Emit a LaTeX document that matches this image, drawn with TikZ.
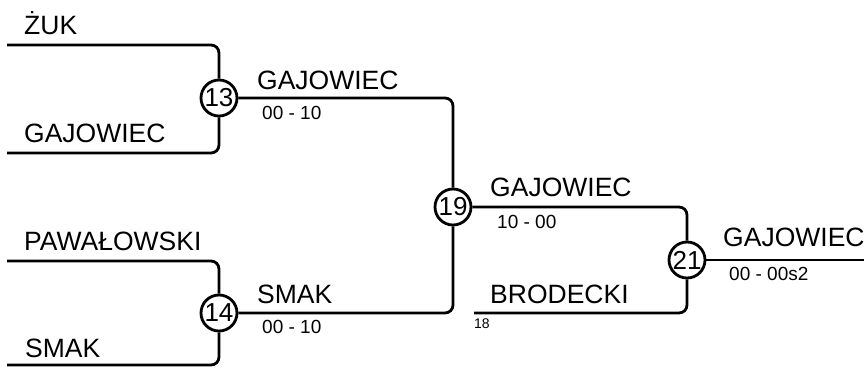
\documentclass[tikz,border=0pt]{standalone}
\usepackage{fontspec}
\setmainfont{Liberation Sans}
\usetikzlibrary{positioning}

\tikzset{
    bline/.style={line width=2.8pt, rounded corners=8pt},
    game/.style={circle, draw, line width=2.8pt, minimum size=36pt, inner sep=0pt, font=\fontsize{26}{26}\selectfont},
    player/.style={anchor=base west, inner sep=0pt, font=\fontsize{26.5}{26.5}\selectfont},
    score/.style={anchor=base west, inner sep=0pt, font=\fontsize{19}{19}\selectfont},
    seed/.style={anchor=base west, inner sep=0pt, font=\fontsize{14}{14}\selectfont}
}

\begin{document}
\begin{tikzpicture}[x=1pt, y=-1pt]
            \useasboundingbox (0,0) rectangle (864,367);
            % games
            \node[game] (m13) at (219,98) {13};
            \node[game] (m14) at (219,313) {14};
            \node[game] (m19) at (453,207) {19};
            \node[game] (m21) at (687,260) {21};
            % line ends
            \coordinate (zuk) at (7,45);
            \coordinate (gaj) at (7,153);
            \coordinate (paw) at (7,261);
            \coordinate (smak) at (7,365);
            \coordinate (brod) at (474,313);
            \coordinate (win) at (866,260);
            % lines
            \draw[bline] (zuk) -| (m13);
            \draw[bline] (gaj) -| (m13);
            \draw[bline] (paw) -| (m14);
            \draw[bline] (smak) -| (m14);
            \draw[bline] (m13) -| (m19);
            \draw[bline] (m14) -| (m19);
            \draw[bline] (m19) -| (m21);
            \draw[bline] (brod) -| (m21);
            \draw[bline] (m21) -- (win);
            % names
            \node[player] (n1) at (24,34) {ŻUK};
            \node[player] (n2) at (24,142) {GAJOWIEC};
            \node[player] (n3) at (24,250) {PAWAŁOWSKI};
            \node[player] (n4) at (25,357) {SMAK};
            \node[player] (n5) at (257,89) {GAJOWIEC};
            \node[player] (n6) at (257,303) {SMAK};
            \node[player] (n7) at (490,196) {GAJOWIEC};
            \node[player] (n8) at (490,303) {BRODECKI};
            \node[player] (n9) at (723,246) {GAJOWIEC};
            % scores
            \node[score] (s13) at (262,119) {00 - 10};
            \node[score] (s14) at (262,333) {00 - 10};
            \node[score] (s19) at (497,228) {10 - 00};
            \node[score] (s21) at (729,280) {00 - 00s2};
            \node[seed] (b18) at (474,328) {18};
        \end{tikzpicture}
\end{document}
